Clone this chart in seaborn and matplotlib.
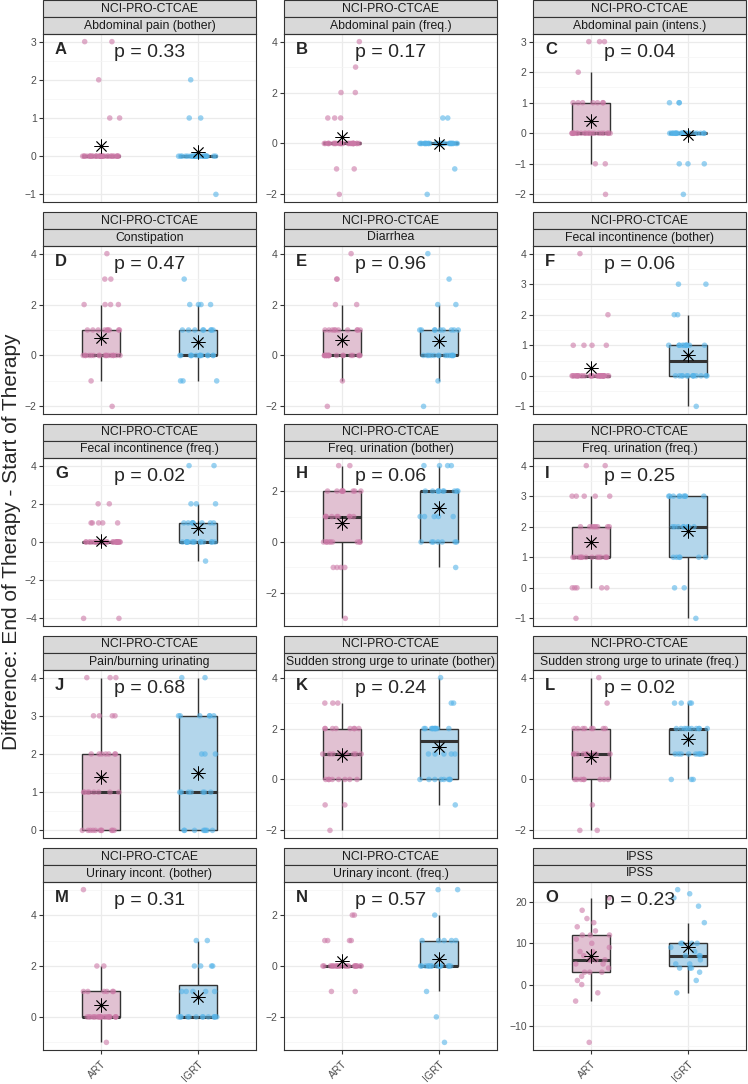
import numpy as np
import pandas as pd
import matplotlib
matplotlib.use("Agg")
import matplotlib.pyplot as plt
from matplotlib.patches import Rectangle
from matplotlib.ticker import MultipleLocator
import seaborn as sns

sns.set_style("white")
plt.rcParams["font.family"] = ["Liberation Sans", "DejaVu Sans"]

groups = ["ART", "IGRT"]
letters = list("ABCDEFGHIJKLMNO")
headers = ["NCI-PRO-CTCAE"] * 14 + ["IPSS"]
titles = ["Abdominal pain (bother)", "Abdominal pain (freq.)", "Abdominal pain (intens.)",
          "Constipation", "Diarrhea", "Fecal incontinence (bother)",
          "Fecal incontinence (freq.)", "Freq. urination (bother)", "Freq. urination (freq.)",
          "Pain/burning urinating", "Sudden strong urge to urinate (bother)",
          "Sudden strong urge to urinate (freq.)",
          "Urinary incont. (bother)", "Urinary incont. (freq.)", "IPSS"]
p_values = ["0.33", "0.17", "0.04", "0.47", "0.96", "0.06", "0.02", "0.06",
            "0.25", "0.68", "0.24", "0.02", "0.31", "0.57", "0.23"]
tick_steps = [1, 2, 1, 2, 2, 1, 2, 2, 1, 1, 2, 2, 2, 2, 10]

# differences (end - start)
art_A = [3, 3, 2, 1, 1, 0, 0, 0, 0, 0, 0, 0, 0, 0, 0, 0, 0, 0, 0, 0, 0, 0, 0, 0, 0, 0, 0, 0, 0, 0, 0, 0, 0, 0, 0, 0, 0]
igrt_A = [2, 1, 1, 0, 0, 0, 0, 0, 0, 0, 0, 0, 0, 0, 0, 0, 0, 0, 0, 0, 0, 0, 0, 0, 0, 0, 0, 0, 0, -1]
art_B = [4, 3, 2, 2, 1, 1, 1, 0, 0, 0, 0, 0, 0, 0, 0, 0, 0, 0, 0, 0, 0, 0, 0, 0, 0, 0, 0, 0, 0, 0, 0, 0, 0, 0, -1, -1, -2]
igrt_B = [1, 1, 0, 0, 0, 0, 0, 0, 0, 0, 0, 0, 0, 0, 0, 0, 0, 0, 0, 0, 0, 0, 0, 0, 0, 0, 0, 0, -1, -2]
art_C = [3, 3, 3, 2, 1, 1, 1, 1, 1, 1, 1, 0, 0, 0, 0, 0, 0, 0, 0, 0, 0, 0, 0, 0, 0, 0, 0, 0, 0, 0, 0, -1, -1, -2]
igrt_C = [1, 1, 1, 0, 0, 0, 0, 0, 0, 0, 0, 0, 0, 0, 0, 0, 0, 0, 0, 0, 0, 0, 0, 0, 0, 0, -1, -1, -1, -2]
art_D = [4, 3, 3, 2, 2, 2, 2, 1, 1, 1, 1, 1, 1, 1, 1, 1, 0, 0, 0, 0, 0, 0, 0, 0, 0, 0, 0, 0, 0, 0, 0, 0, 0, -1, -2]
igrt_D = [3, 2, 2, 2, 2, 1, 1, 1, 1, 1, 1, 1, 1, 0, 0, 0, 0, 0, 0, 0, 0, 0, 0, 0, 0, 0, 0, -1, -1, -1]
art_E = [4, 3, 3, 2, 2, 1, 1, 1, 1, 1, 1, 1, 1, 1, 1, 0, 0, 0, 0, 0, 0, 0, 0, 0, 0, 0, 0, 0, 0, 0, 0, 0, 0, -1, -2]
igrt_E = [4, 3, 2, 2, 1, 1, 1, 1, 1, 1, 1, 1, 1, 0, 0, 0, 0, 0, 0, 0, 0, 0, 0, 0, 0, 0, 0, -1, -2]
art_F = [4, 2, 1, 1, 1, 1, 0, 0, 0, 0, 0, 0, 0, 0, 0, 0, 0, 0, 0, 0, 0, 0, 0, 0, 0, 0, 0, 0, 0, 0, 0, 0, 0, 0, 0, 0, 0]
igrt_F = [3, 3, 2, 2, 1, 1, 1, 1, 1, 1, 1, 1, 1, 1, 0, 0, 0, 0, 0, 0, 0, 0, 0, 0, 0, 0, 0, -1]
art_G = [2, 2, 1, 1, 1, 1, 1, 0, 0, 0, 0, 0, 0, 0, 0, 0, 0, 0, 0, 0, 0, 0, 0, 0, 0, 0, 0, 0, 0, 0, 0, 0, 0, -4, -4]
igrt_G = [4, 4, 2, 2, 2, 1, 1, 1, 1, 1, 1, 1, 1, 0, 0, 0, 0, 0, 0, 0, 0, 0, 0, 0, 0, 0, 0, 0, -1]
art_H = [3, 3, 2, 2, 2, 2, 2, 2, 2, 2, 2, 1, 1, 1, 1, 1, 1, 1, 1, 1, 0, 0, 0, 0, 0, 0, 0, 0, 0, -1, -1, -1, -1, -3]
igrt_H = [3, 3, 3, 3, 2, 2, 2, 2, 2, 2, 2, 2, 2, 2, 1, 1, 1, 1, 1, 0, 0, 0, 0, 0, 0, 0, -1]
art_I = [4, 4, 3, 3, 3, 3, 3, 2, 2, 2, 2, 2, 2, 2, 2, 1, 1, 1, 1, 1, 1, 1, 1, 1, 1, 1, 1, 1, 1, 0, 0, 0, 0, 0, -1]
igrt_I = [3, 3, 3, 3, 3, 3, 3, 3, 3, 2, 2, 2, 2, 2, 2, 2, 2, 1, 1, 1, 1, 1, 1, 0, 0, -1]
art_J = [4, 4, 4, 3, 3, 3, 3, 2, 2, 2, 2, 2, 2, 2, 1, 1, 1, 1, 1, 1, 1, 1, 0, 0, 0, 0, 0, 0, 0, 0, 0, 0, 0]
igrt_J = [4, 4, 3, 3, 3, 3, 3, 3, 2, 2, 2, 1, 1, 1, 1, 1, 1, 1, 0, 0, 0, 0, 0, 0, 0, 0]
art_K = [3, 3, 3, 2, 2, 2, 2, 2, 2, 2, 2, 1, 1, 1, 1, 1, 1, 1, 1, 1, 0, 0, 0, 0, 0, 0, 0, 0, -1, -1, -2]
igrt_K = [4, 3, 3, 2, 2, 2, 2, 2, 2, 2, 2, 2, 2, 2, 1, 1, 1, 1, 1, 0, 0, 0, 0, 0, 0, 0, 0, -1]
art_L = [4, 3, 2, 2, 2, 2, 2, 2, 2, 2, 1, 1, 1, 1, 1, 1, 1, 1, 1, 0, 0, 0, 0, 0, 0, 0, 0, -1, -2, -2]
igrt_L = [3, 3, 3, 3, 2, 2, 2, 2, 2, 2, 2, 2, 2, 2, 1, 1, 1, 1, 1, 1, 1, 1, 1, 0, 0, 0]
art_M = [5, 2, 2, 1, 1, 1, 1, 1, 1, 0, 0, 0, 0, 0, 0, 0, 0, 0, 0, 0, 0, 0, 0, 0, 0, 0, 0, 0, 0, -1]
igrt_M = [3, 3, 2, 2, 2, 2, 1, 1, 1, 1, 1, 0, 0, 0, 0, 0, 0, 0, 0, 0, 0, 0, 0, 0]
art_N = [2, 2, 1, 1, 1, 1, 0, 0, 0, 0, 0, 0, 0, 0, 0, 0, 0, 0, 0, 0, 0, 0, 0, 0, 0, 0, 0, 0, -1, -1]
igrt_N = [3, 3, 2, 1, 1, 1, 1, 1, 0, 0, 0, 0, 0, 0, 0, 0, 0, 0, 0, 0, 0, 0, -1, -2, -3]
art_O = [21, 18, 16, 15, 14, 13, 12, 12, 12, 11, 10, 9, 8, 8, 7, 6, 6, 6, 6, 5, 5, 4, 3, 3, 3, 2, 1, 0, -2, -4, -14]
igrt_O = [23, 22, 21, 19, 15, 10, 10, 10, 10, 9, 8, 7, 7, 7, 6, 5, 5, 4, 4, 4, 3, 1, -2]

art_all = [art_A, art_B, art_C, art_D, art_E, art_F, art_G, art_H, art_I, art_J,
           art_K, art_L, art_M, art_N, art_O]
igrt_all = [igrt_A, igrt_B, igrt_C, igrt_D, igrt_E, igrt_F, igrt_G, igrt_H, igrt_I, igrt_J,
            igrt_K, igrt_L, igrt_M, igrt_N, igrt_O]

point_col = {"ART": "#CC79A7", "IGRT": "#56B4E9"}
box_fill = {"ART": "#E6BCD3", "IGRT": "#AAD9F4"}

np.random.seed(7)
W, H = 748, 1084
fig = plt.figure(figsize=(W / 100, H / 100), dpi=100)
col_left = [43, 284, 533]
pw, ph, sh = 213, 168, 17

for i in range(15):
    r, c = divmod(i, 3)
    top = 34 + 212 * r
    ax = fig.add_axes([col_left[c] / W, 1 - (top + ph) / H, pw / W, ph / H])
    a, b = art_all[i], igrt_all[i]
    df = pd.DataFrame({"group": ["ART"] * len(a) + ["IGRT"] * len(b),
                       "value": a + b})

    sns.boxplot(data=df, x="group", y="value", hue="group", order=groups,
                hue_order=groups, palette=box_fill, width=0.4, showfliers=False,
                showcaps=False, linewidth=1.0, linecolor="#333333",
                medianprops=dict(linewidth=2.2, color="#333333"),
                legend=False, ax=ax)
    sns.stripplot(data=df, x="group", y="value", hue="group", order=groups,
                  hue_order=groups, palette=point_col, jitter=0.2, size=4,
                  alpha=0.6, linewidth=0, legend=False, ax=ax, zorder=3)
    means = df.groupby("group")["value"].mean().reindex(groups)
    ax.plot(range(len(groups)), means.values, ls="none", marker=(8, 2, 0),
            ms=10, mew=0.6, color="black", zorder=4)

    lo, hi = df["value"].min(), df["value"].max()
    pad = 0.05 * (hi - lo)
    ax.set_ylim(lo - pad, hi + pad)
    ax.set_xlim(-0.6, 1.6)
    step = tick_steps[i]
    ax.yaxis.set_major_locator(MultipleLocator(step))
    ax.yaxis.set_minor_locator(MultipleLocator(step / 2))
    ax.set_axisbelow(True)
    ax.grid(which="major", color="#EBEBEB", lw=0.9)
    ax.grid(which="minor", axis="y", color="#F4F4F4", lw=0.5)
    ax.set_xlabel("")
    ax.set_ylabel("")
    for s in ax.spines.values():
        s.set_color("#333333")
        s.set_linewidth(0.8)
    ax.tick_params(axis="y", which="major", left=True, length=3, width=0.8,
                   color="#333333", labelsize=7.5, labelcolor="#4D4D4D", pad=1.5)
    ax.tick_params(axis="y", which="minor", left=False)
    if r == 4:
        ax.tick_params(axis="x", bottom=True, length=3, width=0.8, color="#333333",
                       labelsize=7.5, labelcolor="#4D4D4D")
        for lab in ax.get_xticklabels():
            lab.set_rotation(45)
            lab.set_ha("right")
            lab.set_rotation_mode("anchor")
    else:
        ax.tick_params(axis="x", bottom=False, labelbottom=False)

    # facet strips
    for txt, y0 in [(headers[i], 1 + sh / ph), (titles[i], 1)]:
        ax.add_patch(Rectangle((0, y0), 1, sh / ph, transform=ax.transAxes,
                               clip_on=False, facecolor="#D9D9D9",
                               edgecolor="#333333", lw=0.8))
        ax.text(0.5, y0 + sh / ph / 2, txt, transform=ax.transAxes, ha="center",
                va="center", fontsize=8.8, color="#1A1A1A")

    ax.text(0.056, 0.905, letters[i], transform=ax.transAxes, ha="left",
            va="center", fontsize=12, fontweight="bold")
    ax.text(0.5, 0.887, f"p = {p_values[i]}", transform=ax.transAxes,
            ha="center", va="center", fontsize=14)

fig.text(12 / W, 0.5, "Difference: End of Therapy - Start of Therapy",
         rotation=90, ha="center", va="center", fontsize=15)

fig.savefig("out.png", dpi=100)
